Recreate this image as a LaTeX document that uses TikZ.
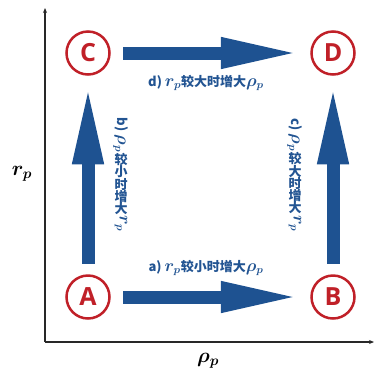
\documentclass[tikz,border=0pt]{standalone}
\usepackage{fontspec}
\usepackage{bm}
\usetikzlibrary{arrows.meta}
\newfontfamily\cjk{Noto Sans CJK SC}
\newfontfamily\letterfont{Open Sans}
\definecolor{arrowblue}{RGB}{30,82,145}
\definecolor{textblue}{RGB}{34,84,146}
\definecolor{ringred}{RGB}{192,32,40}
\definecolor{axisgray}{RGB}{40,40,40}
\newcommand\mth[1]{{\fontsize{16}{16}\selectfont$\bm{#1}$}}
\newcommand\vstack[1]{\vbox{\offinterlineskip\halign{\hfil##\hfil\cr#1\crcr}}}
\newcommand\vgap{\noalign{\kern1pt}}
\tikzset{
  ring/.style={circle, draw=ringred, line width=2.5pt, minimum size=43pt, inner sep=0pt,
    text=ringred, font=\letterfont\bfseries\fontsize{25}{25}\selectfont},
  bigarrow/.style={draw=arrowblue, line width=13pt, -{Triangle[length=80pt,width=28pt]}},
  hlabel/.style={text=textblue, font=\cjk\bfseries\fontsize{13}{13}\selectfont, inner sep=0pt},
  vlabel/.style={text=textblue, font=\cjk\bfseries\fontsize{13}{13}\selectfont, inner sep=0pt},
  axis/.style={draw=axisgray, line width=1.2pt, -{Stealth[length=5pt,width=4pt]}},
  axlabel/.style={font=\fontsize{21}{21}\selectfont, inner sep=0pt}
}
\begin{document}
\begin{tikzpicture}[x=1pt,y=-1pt]
\useasboundingbox (0,0) rectangle (374,373);
% axes
\coordinate (O) at (45,342);
\coordinate (Ytop) at (45,8);
\coordinate (Xend) at (374,342);
\draw[axis] (O) -- (Ytop);
\draw[axis] (O) -- (Xend);
\node[axlabel] (ry) at (22,174) {$\bm{r}_{\bm{p}}$};
\node[axlabel] (rx) at (208,361) {$\bm{\rho}_{\bm{p}}$};
% states
\node[ring] (A) at (88,297) {A};
\node[ring] (B) at (333,297) {B};
\node[ring] (C) at (88,53) {C};
\node[ring] (D) at (333,53) {D};
% transitions
\draw[bigarrow, shorten <=12.5pt, shorten >=9.5pt] (A) -- (B);
\draw[bigarrow, shorten <=12.5pt, shorten >=9.5pt] (C) -- (D);
\draw[bigarrow, shorten <=10.5pt, shorten >=8.5pt] (A) -- (C);
\draw[bigarrow, shorten <=10.5pt, shorten >=8.5pt] (B) -- (D);
% labels
\node[hlabel] (la) at (206,268) {a) \mth{r_p}较小时增大\mth{\rho_p}};
\node[hlabel] (ld) at (206,83) {d) \mth{r_p}较大时增大\mth{\rho_p}};
\node[vlabel] (lb) at (121,175) {\vstack{\rotatebox{-90}{b) \mth{\rho_p}}\cr\vgap 较\cr 小\cr 时\cr 增\cr 大\cr\vgap\rotatebox{-90}{\mth{r_p}}}};
\node[vlabel] (lc) at (295,175) {\vstack{\rotatebox{-90}{c) \mth{\rho_p}}\cr\vgap 较\cr 大\cr 时\cr 增\cr 大\cr\vgap\rotatebox{-90}{\mth{r_p}}}};
\end{tikzpicture}
\end{document}
